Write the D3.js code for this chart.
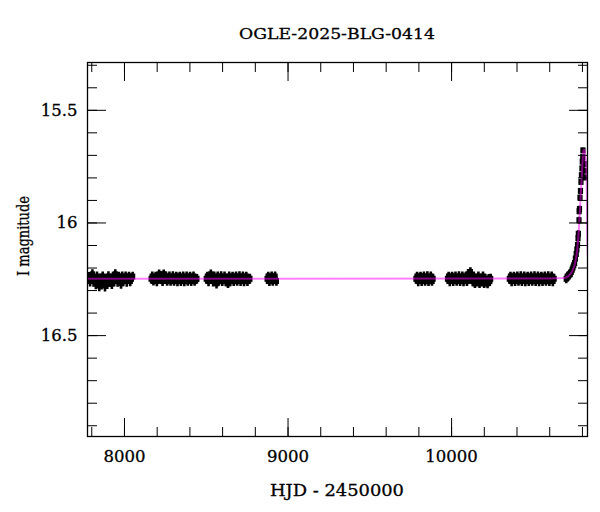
<!DOCTYPE html>
<html>
<head>
<meta charset="utf-8">
<script src="https://cdn.jsdelivr.net/npm/d3@7"></script>
<style>
  html, body { margin: 0; padding: 0; background: #fff; }
  svg { display: block; font-family: "DejaVu Serif", "Liberation Serif", serif; }
</style>
</head>
<body>
<svg id="chart" width="600" height="512"></svg>
<script>
// ---------------- DATA ----------------
const title = "OGLE-2025-BLG-0414";
const xLabel = "HJD - 2450000";
const yLabel = "I magnitude";
const xDomain = [7777, 10834];
const yDomain = [15.29, 16.95];
const xMajorTicks = [8000, 9000, 10000];
const xMinorTicks = [7800, 8000, 8200, 8400, 8600, 8800, 9000, 9200, 9400, 9600, 9800, 10000, 10200, 10400, 10600, 10800];
const yMajorTicks = [15.5, 16, 16.5];
const yMinorTicks = [15.3, 15.4, 15.5, 15.6, 15.7, 15.8, 15.9, 16.0, 16.1, 16.2, 16.3, 16.4, 16.5, 16.6, 16.7, 16.8, 16.9];

// observations: [HJD-2450000, I mag, error]
const season1 = [
  [7779,16.25,0.022],[7786,16.24,0.020],[7793,16.26,0.024],[7800,16.25,0.021],[7807,16.23,0.022],
  [7814,16.26,0.025],[7821,16.25,0.020],[7828,16.27,0.026],[7835,16.24,0.022],[7842,16.26,0.024],
  [7849,16.28,0.025],[7856,16.25,0.023],[7863,16.27,0.027],[7870,16.24,0.022],[7877,16.26,0.024],
  [7884,16.28,0.026],[7891,16.25,0.022],[7898,16.27,0.025],[7905,16.24,0.023],[7912,16.26,0.026],
  [7919,16.25,0.022],[7926,16.27,0.025],[7933,16.24,0.021],[7940,16.26,0.024],[7947,16.23,0.022],
  [7954,16.25,0.023],[7961,16.26,0.025],[7968,16.24,0.021],[7975,16.25,0.022],[7982,16.27,0.024],
  [7989,16.24,0.022],[7996,16.26,0.023],[8003,16.25,0.021],[8010,16.24,0.022],[8017,16.26,0.025],
  [8024,16.25,0.022],[8031,16.24,0.021],[8038,16.26,0.023],[8045,16.25,0.022],[8053,16.24,0.021]
];
const season2 = [
  [8166,16.25,0.021],[8173,16.24,0.022],[8180,16.26,0.020],[8187,16.25,0.022],[8194,16.24,0.021],
  [8201,16.26,0.023],[8208,16.25,0.022],[8215,16.23,0.021],[8222,16.25,0.022],[8229,16.24,0.024],
  [8236,16.26,0.022],[8243,16.23,0.021],[8250,16.25,0.023],[8257,16.24,0.022],[8264,16.26,0.021],
  [8271,16.25,0.023],[8278,16.24,0.022],[8285,16.26,0.021],[8292,16.25,0.022],[8299,16.24,0.023],
  [8306,16.26,0.021],[8313,16.25,0.022],[8320,16.24,0.021],[8327,16.26,0.023],[8334,16.25,0.022],
  [8341,16.24,0.021],[8348,16.26,0.022],[8355,16.25,0.021],[8362,16.24,0.022],[8369,16.26,0.023],
  [8376,16.25,0.021],[8383,16.24,0.022],[8390,16.26,0.021],[8397,16.25,0.022],[8404,16.24,0.021],
  [8411,16.26,0.022],[8418,16.25,0.021],[8425,16.24,0.022],[8432,16.26,0.021],[8440,16.25,0.022],
  [8446,16.25,0.021]
];
const season3 = [
  [8503,16.25,0.022],[8510,16.24,0.021],[8517,16.26,0.023],[8524,16.25,0.022],[8531,16.23,0.021],
  [8538,16.25,0.022],[8545,16.26,0.024],[8552,16.24,0.022],[8559,16.25,0.021],[8566,16.27,0.023],
  [8573,16.24,0.022],[8580,16.26,0.021],[8587,16.25,0.022],[8594,16.24,0.023],[8601,16.26,0.022],
  [8608,16.25,0.021],[8615,16.24,0.022],[8622,16.26,0.023],[8629,16.25,0.022],[8636,16.27,0.021],
  [8643,16.24,0.022],[8650,16.26,0.023],[8657,16.25,0.022],[8664,16.24,0.021],[8671,16.26,0.022],
  [8678,16.25,0.023],[8685,16.24,0.022],[8692,16.26,0.021],[8699,16.25,0.022],[8706,16.24,0.023],
  [8713,16.26,0.022],[8720,16.25,0.021],[8727,16.24,0.022],[8734,16.26,0.023],[8741,16.25,0.022],
  [8748,16.24,0.021],[8755,16.26,0.022],[8762,16.25,0.021],[8770,16.25,0.022]
];
const season4 = [
  [8875,16.25,0.023],[8882,16.24,0.021],[8889,16.26,0.022],[8896,16.25,0.024],
  [8903,16.24,0.022],[8910,16.26,0.021],[8917,16.25,0.023],[8924,16.24,0.022],[8932,16.26,0.021]
];
const season5 = [
  [9785,16.25,0.022],[9792,16.24,0.021],[9799,16.26,0.023],[9806,16.25,0.022],[9813,16.24,0.021],
  [9820,16.26,0.022],[9827,16.25,0.023],[9834,16.24,0.022],[9841,16.26,0.021],[9848,16.25,0.022],
  [9855,16.24,0.023],[9862,16.26,0.022],[9869,16.25,0.021],[9876,16.24,0.022],[9883,16.26,0.021],
  [9890,16.25,0.022]
];
const season6 = [
  [9978,16.25,0.022],[9985,16.24,0.021],[9992,16.26,0.023],[9999,16.25,0.022],[10006,16.24,0.021],
  [10013,16.26,0.022],[10020,16.25,0.023],[10027,16.24,0.022],[10034,16.26,0.021],[10041,16.25,0.022],
  [10048,16.24,0.023],[10055,16.26,0.022],[10062,16.25,0.021],[10069,16.24,0.022],[10076,16.26,0.023],
  [10083,16.25,0.022],[10090,16.24,0.021],[10097,16.26,0.022],[10104,16.23,0.023],[10111,16.25,0.022],
  [10118,16.22,0.021],[10125,16.25,0.022],[10132,16.26,0.023],[10139,16.24,0.022],[10146,16.27,0.021],
  [10153,16.25,0.022],[10160,16.26,0.023],[10167,16.24,0.022],[10174,16.27,0.021],[10181,16.25,0.022],
  [10188,16.26,0.023],[10195,16.24,0.022],[10202,16.27,0.021],[10209,16.25,0.022],[10216,16.26,0.023],
  [10223,16.27,0.022],[10230,16.25,0.021],[10237,16.26,0.022],[10242,16.25,0.022]
];
const season7 = [
  [10356,16.25,0.022],[10363,16.24,0.021],[10370,16.26,0.023],[10377,16.25,0.022],[10384,16.24,0.021],
  [10391,16.26,0.022],[10398,16.25,0.023],[10405,16.24,0.022],[10412,16.26,0.021],[10419,16.25,0.022],
  [10426,16.24,0.023],[10433,16.26,0.022],[10440,16.25,0.021],[10447,16.24,0.022],[10454,16.26,0.023],
  [10461,16.25,0.022],[10468,16.24,0.021],[10475,16.26,0.022],[10482,16.25,0.023],[10489,16.24,0.022],
  [10496,16.26,0.021],[10503,16.25,0.022],[10510,16.24,0.023],[10517,16.26,0.022],[10524,16.25,0.021],
  [10531,16.24,0.022],[10538,16.26,0.023],[10545,16.25,0.022],[10552,16.24,0.021],[10559,16.26,0.022],
  [10566,16.25,0.023],[10573,16.24,0.022],[10580,16.26,0.021],[10587,16.25,0.022],[10594,16.24,0.023],
  [10601,16.26,0.022],[10608,16.25,0.021],[10615,16.24,0.022],[10622,16.26,0.023],[10630,16.25,0.022]
];
const season8 = [
  [10704,16.25,0.020],[10710,16.24,0.019],[10716,16.24,0.020],[10722,16.23,0.019],[10728,16.23,0.018],
  [10734,16.22,0.019],[10740,16.21,0.018],[10745,16.20,0.018],[10750,16.19,0.017],[10755,16.18,0.017],
  [10760,16.16,0.017],[10765,16.14,0.016],[10769,16.12,0.016],[10773,16.10,0.016],[10776,16.07,0.015],
  [10778,16.05,0.015],[10782,15.99,0.015],[10783,15.95,0.014],[10785,15.94,0.014],[10788,15.89,0.014],
  [10791,15.86,0.013],[10794,15.82,0.013],[10797,15.79,0.013],[10800,15.76,0.013],[10802,15.73,0.012],
  [10805,15.71,0.012],[10806,15.68,0.012],[10813,15.74,0.012],[10814,15.77,0.013],[10815,15.80,0.013]
];
const seasons = [season1, season2, season3, season4, season5, season6, season7, season8];

// model light curve: [HJD-2450000, I mag]
const model = [
  [7700,16.25],[10600,16.249],[10680,16.247],[10700,16.245],[10720,16.237],[10740,16.218],
  [10755,16.19],[10765,16.155],[10772,16.115],[10778,16.065],[10784,15.995],[10790,15.915],
  [10796,15.835],[10801,15.765],[10805,15.715],[10809,15.685],[10812,15.675],[10816,15.685],
  [10821,15.71],[10826,15.75],[10829,15.80],[10831,15.94],[10833,16.08],[10836,16.15]
];

// ---------------- CHART ----------------
const svg = d3.select("#chart");
const X0 = 87.5, X1 = 587.5, Y0 = 62.5, Y1 = 436.5;
const x = d3.scaleLinear().domain(xDomain).range([X0, X1]);
const y = d3.scaleLinear().domain(yDomain).range([Y0, Y1]);

svg.append("defs").append("clipPath").attr("id", "clip")
  .append("rect").attr("x", X0).attr("y", Y0).attr("width", X1 - X0).attr("height", Y1 - Y0);

const plot = svg.append("g").attr("clip-path", "url(#clip)");

const allPts = seasons.flat();
// error bars
plot.append("g").selectAll("line").data(allPts).join("line")
  .attr("x1", d => x(d[0])).attr("x2", d => x(d[0]))
  .attr("y1", d => y(d[1] - d[2])).attr("y2", d => y(d[1] + d[2]))
  .attr("stroke", "#000").attr("stroke-width", 2.6);
// markers
plot.append("g").selectAll("rect").data(allPts).join("rect")
  .attr("x", d => x(d[0]) - 2.6).attr("y", d => y(d[1]) - 3)
  .attr("width", 5.2).attr("height", 6).attr("fill", "#000");

// model
plot.append("path").datum(model)
  .attr("d", d3.line().x(d => x(d[0])).y(d => y(d[1])))
  .attr("fill", "none").attr("stroke", "#ff00ff").attr("stroke-opacity", 0.5)
  .attr("stroke-width", 2);

// axes
const font = "DejaVu Serif";
function styleAxis(g) {
  g.select(".domain").remove();
  g.selectAll(".tick line").attr("stroke", "#000").attr("stroke-width", 1);
  g.selectAll("text").attr("fill", "#000").attr("font-family", font).attr("font-size", 16.5)
    .attr("stroke", "#000").attr("stroke-width", 0.3);
}
svg.append("g").attr("transform", `translate(0,${Y1})`)
  .call(d3.axisBottom(x).tickValues(xMinorTicks).tickFormat("").tickSizeInner(-9.5).tickSizeOuter(0)).call(styleAxis);
svg.append("g").attr("transform", `translate(0,${Y1})`)
  .call(d3.axisBottom(x).tickValues(xMajorTicks).tickFormat(d3.format("d")).tickSizeInner(-18.5).tickSizeOuter(0).tickPadding(14)).call(styleAxis);
svg.append("g").attr("transform", `translate(0,${Y0})`)
  .call(d3.axisTop(x).tickValues(xMinorTicks).tickFormat("").tickSizeInner(-9.5).tickSizeOuter(0)).call(styleAxis);
svg.append("g").attr("transform", `translate(0,${Y0})`)
  .call(d3.axisTop(x).tickValues(xMajorTicks).tickFormat("").tickSizeInner(-18.5).tickSizeOuter(0)).call(styleAxis);

svg.append("g").attr("transform", `translate(${X0},0)`)
  .call(d3.axisLeft(y).tickValues(yMinorTicks).tickFormat("").tickSizeInner(-9.5).tickSizeOuter(0)).call(styleAxis);
svg.append("g").attr("transform", `translate(${X0},0)`)
  .call(d3.axisLeft(y).tickValues(yMajorTicks).tickFormat(d => String(d)).tickSizeInner(-18.5).tickSizeOuter(0).tickPadding(10)).call(styleAxis);
svg.append("g").attr("transform", `translate(${X1},0)`)
  .call(d3.axisRight(y).tickValues(yMinorTicks).tickFormat("").tickSizeInner(-9.5).tickSizeOuter(0)).call(styleAxis);
svg.append("g").attr("transform", `translate(${X1},0)`)
  .call(d3.axisRight(y).tickValues(yMajorTicks).tickFormat("").tickSizeInner(-18.5).tickSizeOuter(0)).call(styleAxis);

// frame
svg.append("rect").attr("x", X0).attr("y", Y0).attr("width", X1 - X0).attr("height", Y1 - Y0)
  .attr("fill", "none").attr("stroke", "#000").attr("stroke-width", 1.3);

// labels
function label(t, size) {
  return t.attr("font-family", font).attr("font-size", size).attr("fill", "#000")
    .attr("stroke", "#000").attr("stroke-width", 0.3).attr("lengthAdjust", "spacingAndGlyphs");
}
label(svg.append("text").attr("x", 337).attr("y", 38.5).attr("text-anchor", "middle")
  .attr("textLength", 196), 15.5).text(title);
label(svg.append("text").attr("x", 337).attr("y", 496).attr("text-anchor", "middle")
  .attr("textLength", 134), 16.5).text(xLabel);
label(svg.append("text").attr("transform", "translate(29,236) rotate(-90)").attr("text-anchor", "middle")
  .attr("textLength", 80), 17).text(yLabel);
</script>
</body>
</html>
